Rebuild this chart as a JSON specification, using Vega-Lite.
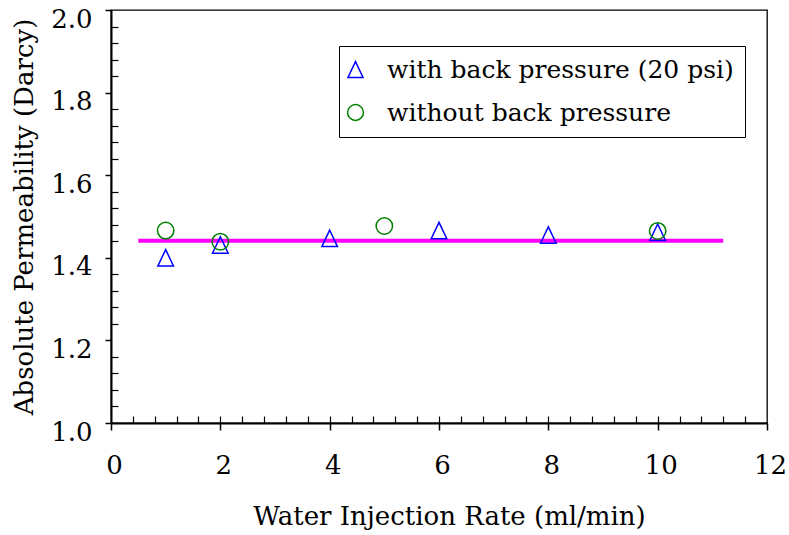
{
  "$schema": "https://vega.github.io/schema/vega-lite/v6.json",
  "width": 656,
  "height": 413,
  "autosize": {"type": "none"},
  "padding": {"left": 111, "top": 10, "right": 22, "bottom": 112},
  "background": "white",
  "config": {
    "view": {"stroke": "black", "strokeWidth": 1.3},
    "font": "DejaVu Serif",
    "axis": {"grid": false, "labelFont": "DejaVu Serif", "titleFont": "DejaVu Serif", "labelColor": "black", "titleColor": "black", "titleFontWeight": "normal", "domainColor": "black", "tickColor": "black"},
    "legend": {"labelFont": "DejaVu Serif"}
  },
  "datasets": {
    "pts": [
      {"rate": 1, "perm": 1.400, "series": "with back pressure (20 psi)"},
      {"rate": 2, "perm": 1.431, "series": "with back pressure (20 psi)"},
      {"rate": 4, "perm": 1.447, "series": "with back pressure (20 psi)"},
      {"rate": 6, "perm": 1.466, "series": "with back pressure (20 psi)"},
      {"rate": 8, "perm": 1.455, "series": "with back pressure (20 psi)"},
      {"rate": 10, "perm": 1.462, "series": "with back pressure (20 psi)"},
      {"rate": 1, "perm": 1.466, "series": "without back pressure"},
      {"rate": 2, "perm": 1.439, "series": "without back pressure"},
      {"rate": 5, "perm": 1.477, "series": "without back pressure"},
      {"rate": 10, "perm": 1.465, "series": "without back pressure"}
    ],
    "fit": [{"x1": 0.5, "x2": 11.2, "y": 1.441}]
  },
  "layer": [
    {
      "data": {"name": "fit"},
      "mark": {"type": "rule", "color": "#ff00ff", "strokeWidth": 4},
      "encoding": {
        "x": {"field": "x1", "type": "quantitative", "scale": {"domain": [0, 12], "nice": false, "zero": false},
          "axis": {"orient": "bottom", "title": null, "labels": false, "domain": false, "tickSize": -7, "tickWidth": 1.2,
            "values": [0.4,0.8,1.2,1.6,2,2.4,2.8,3.2,3.6,4,4.4,4.8,5.2,5.6,6,6.4,6.8,7.2,7.6,8,8.4,8.8,9.2,9.6,10,10.4,10.8,11.2,11.6]}},
        "x2": {"field": "x2"},
        "y": {"field": "y", "type": "quantitative", "scale": {"domain": [1, 2], "nice": false, "zero": false},
          "axis": {"orient": "left", "title": null, "labels": false, "domain": false, "tickSize": -7, "tickWidth": 1.2,
            "values": [1.04,1.08,1.12,1.16,1.24,1.28,1.32,1.36,1.44,1.48,1.52,1.56,1.64,1.68,1.72,1.76,1.84,1.88,1.92,1.96]}}
      }
    },
    {
      "data": {"name": "pts"},
      "mark": {"type": "point", "filled": false, "size": 270, "strokeWidth": 1.5, "opacity": 1},
      "encoding": {
        "x": {"field": "rate", "type": "quantitative", "title": "Water Injection Rate (ml/min)",
          "axis": {"orient": "bottom", "values": [0, 2, 4, 6, 8, 10, 12], "tickSize": 7, "tickWidth": 1.5, "domainWidth": 2,
            "labelFontSize": 26, "labelPadding": 22, "labelOffset": 3, "titleFontSize": 26, "titlePadding": 25, "titleX": 338, "labelFlush": false}},
        "y": {"field": "perm", "type": "quantitative", "title": "Absolute Permeability (Darcy)",
          "axis": {"orient": "left", "values": [1, 1.2, 1.4, 1.6, 1.8, 2], "format": ".1f", "tickSize": 6, "tickWidth": 1.5, "domainWidth": 2,
            "labelFontSize": 26, "labelPadding": 13, "labelBaseline": "middle", "labelOffset": 9, "titleFontSize": 26, "titlePadding": 13, "labelFlush": false}},
        "shape": {"field": "series", "type": "nominal",
          "scale": {"domain": ["with back pressure (20 psi)", "without back pressure"], "range": ["M0,-1L-0.95,1L0.95,1Z", "circle"]},
          "legend": {"orient": "none", "legendX": 228, "legendY": 36, "title": null, "strokeColor": "black", "padding": 11,
            "labelFontSize": 25, "labelColor": "black", "labelOffset": 19, "symbolSize": 250, "symbolStrokeWidth": 1.5, "symbolOffset": -7, "rowPadding": 17, "labelLimit": 500}},
        "color": {"field": "series", "type": "nominal",
          "scale": {"domain": ["with back pressure (20 psi)", "without back pressure"], "range": ["#0000ff", "#008000"]},
          "legend": {"orient": "none", "legendX": 228, "legendY": 36, "title": null, "strokeColor": "black", "padding": 11,
            "labelFontSize": 25, "labelColor": "black", "labelOffset": 19, "symbolSize": 250, "symbolStrokeWidth": 1.5, "symbolOffset": -7, "rowPadding": 17, "labelLimit": 500}}
      }
    }
  ],
  "resolve": {"axis": {"x": "independent", "y": "independent"}}
}
